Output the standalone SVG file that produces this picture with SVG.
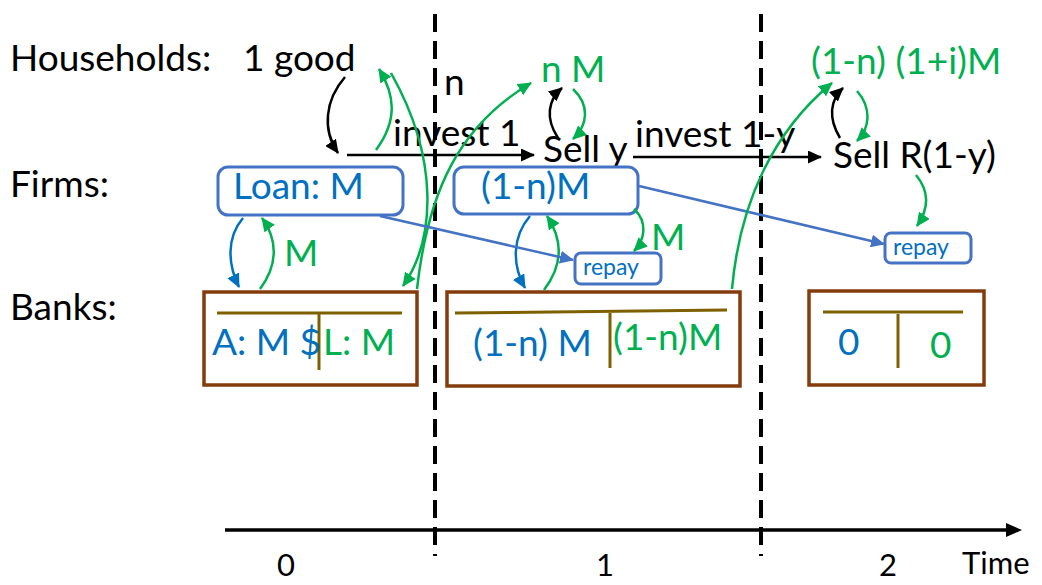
<svg xmlns="http://www.w3.org/2000/svg" width="1042" height="585" viewBox="0 0 1042 585">
<style>
text{font-family:Lato,"Liberation Sans",sans-serif;font-size:37px}
.k{fill:#000}
.g{fill:#00B050}
.b{fill:#0070C0}
.sm{font-size:23px}
.ax{font-size:31px}
.firm{fill:#fff;stroke:#4472C4;stroke-width:3}
.bank{fill:#fff;stroke:#843C0C;stroke-width:3.5}
.t{stroke:#7F6000;stroke-width:3;fill:none}
.ck{fill:none;stroke:#000;stroke-width:2.5}
.cg{fill:none;stroke:#00B050;stroke-width:2.5}
.cb{fill:none;stroke:#0070C0;stroke-width:2.5}
.cf{fill:none;stroke:#4472C4;stroke-width:2.5}
.dash{stroke:#000;stroke-width:4;stroke-dasharray:18 9}
</style>
<defs>
<marker id="ak" markerUnits="userSpaceOnUse" markerWidth="15" markerHeight="13" refX="13" refY="6.5" orient="auto"><path d="M0,0 L14,6.5 L0,13 z" fill="#000"/></marker>
<marker id="ag" markerUnits="userSpaceOnUse" markerWidth="15" markerHeight="13" refX="13" refY="6.5" orient="auto"><path d="M0,0 L14,6.5 L0,13 z" fill="#00B050"/></marker>
<marker id="ab" markerUnits="userSpaceOnUse" markerWidth="15" markerHeight="13" refX="13" refY="6.5" orient="auto"><path d="M0,0 L14,6.5 L0,13 z" fill="#0070C0"/></marker>
<marker id="af" markerUnits="userSpaceOnUse" markerWidth="15" markerHeight="13" refX="13" refY="6.5" orient="auto"><path d="M0,0 L14,6.5 L0,13 z" fill="#4472C4"/></marker>
</defs>
<rect width="1042" height="585" fill="#fff"/>

<g id="timeline">
<line class="dash" x1="435" y1="14" x2="435" y2="556"/>
<line class="dash" x1="761" y1="14" x2="761" y2="556"/>
<line x1="225" y1="530" x2="1008" y2="530" stroke="#000" stroke-width="3.5"/>
<path d="M1006,523 L1022,530 L1006,537 z" fill="#000"/>
<text class="k ax" x="277" y="576">0</text>
<text class="k ax" x="596" y="576">1</text>
<text class="k ax" x="879" y="576">2</text>
<text class="k ax" x="962" y="574">Time</text>
</g>

<g id="labels">
<text class="k" x="10" y="71">Households:</text>
<text class="k" x="10" y="197">Firms:</text>
<text class="k" x="10" y="320">Banks:</text>
</g>

<g id="households">
<text class="k" x="243" y="71">1 good</text>
<text class="k" x="444" y="95">n</text>
<text class="g" x="541" y="82">n M</text>
<text class="g" x="811" y="74">(1-n) (1+i)M</text>
</g>

<g id="firms-actions">
<text class="k" x="393" y="146">invest 1</text>
<text class="k" x="543" y="162">Sell y</text>
<text class="k" x="635" y="147">invest 1-y</text>
<text class="k" x="833" y="168">Sell R(1-y)</text>
</g>

<g id="loan-box">
<rect class="firm" x="218" y="167" width="185" height="48" rx="10"/>
<text class="b" x="233" y="199">Loan: M</text>
</g>
<g id="firm-box-1">
<rect class="firm" x="454" y="167" width="184" height="47" rx="10"/>
<text class="b" x="481" y="199">(1-n)M</text>
</g>
<g id="repay-1">
<rect class="firm" x="575" y="253" width="86" height="31" rx="6"/>
<text class="b sm" x="583" y="275">repay</text>
</g>
<g id="repay-2">
<rect class="firm" x="885" y="233" width="86" height="30" rx="6"/>
<text class="b sm" x="893" y="255">repay</text>
</g>

<g id="bank-0">
<rect class="bank" x="204" y="292" width="213" height="93"/>
<line class="t" x1="217" y1="313" x2="402" y2="313"/>
<line class="t" x1="319" y1="313" x2="319" y2="370"/>
<text class="b" x="212" y="355">A: M $</text>
<text class="g" x="323" y="355">L: M</text>
</g>
<g id="bank-1">
<rect class="bank" x="447" y="292" width="293" height="94"/>
<line class="t" x1="455" y1="313" x2="727" y2="310"/>
<line class="t" x1="610" y1="313" x2="610" y2="368"/>
<text class="b" x="473" y="356">(1-n) M</text>
<text class="g" x="613" y="350">(1-n)M</text>
</g>
<g id="bank-2">
<rect class="bank" x="809" y="291" width="175" height="94"/>
<line class="t" x1="823" y1="312" x2="963" y2="312"/>
<line class="t" x1="898" y1="314" x2="898" y2="368"/>
<text class="b" x="838" y="355">0</text>
<text class="g" x="930" y="358">0</text>
</g>

<g id="connectors">
<line class="ck" x1="347" y1="155" x2="534" y2="155" marker-end="url(#ak)"/>
<line class="ck" x1="633" y1="157" x2="821" y2="157" marker-end="url(#ak)"/>
<path class="ck" d="M345,77 C325,100 322,130 338,153" marker-end="url(#ak)"/>
<path class="cg" d="M376,150 C398,120 395,95 379,69" marker-end="url(#ag)"/>
<path class="cg" d="M391,73 C440,160 435,240 403,286" marker-end="url(#ag)"/>
<path class="cg" d="M417,289 C428,190 460,125 531,83" marker-end="url(#ag)"/>
<path class="ck" d="M558,138 C545,118 548,100 562,88" marker-end="url(#ak)"/>
<path class="cg" d="M573,89 C590,105 588,125 573,139" marker-end="url(#ag)"/>
<path class="cb" d="M243,218 C226,238 228,265 239,287" marker-end="url(#ab)"/>
<path class="cg" d="M260,289 C278,265 278,240 262,218" marker-end="url(#ag)"/>
<text class="g" x="284" y="266">M</text>
<path class="cb" d="M530,216 C512,237 512,265 525,288" marker-end="url(#ab)"/>
<path class="cg" d="M544,290 C563,265 563,240 547,216" marker-end="url(#ag)"/>
<path class="cg" d="M634,209 C648,222 645,240 634,251" marker-end="url(#ag)"/>
<text class="g" x="651" y="250">M</text>
<line class="cf" x1="380" y1="216" x2="573" y2="260" marker-end="url(#af)"/>
<line class="cf" x1="639" y1="186" x2="884" y2="244" marker-end="url(#af)"/>
<path class="cg" d="M732,289 C740,200 775,130 832,83" marker-end="url(#ag)"/>
<path class="ck" d="M840,138 C828,118 830,100 843,88" marker-end="url(#ak)"/>
<path class="cg" d="M857,91 C872,108 870,128 857,141" marker-end="url(#ag)"/>
<path class="cg" d="M916,175 C930,192 928,210 917,226" marker-end="url(#ag)"/>
</g>
</svg>
